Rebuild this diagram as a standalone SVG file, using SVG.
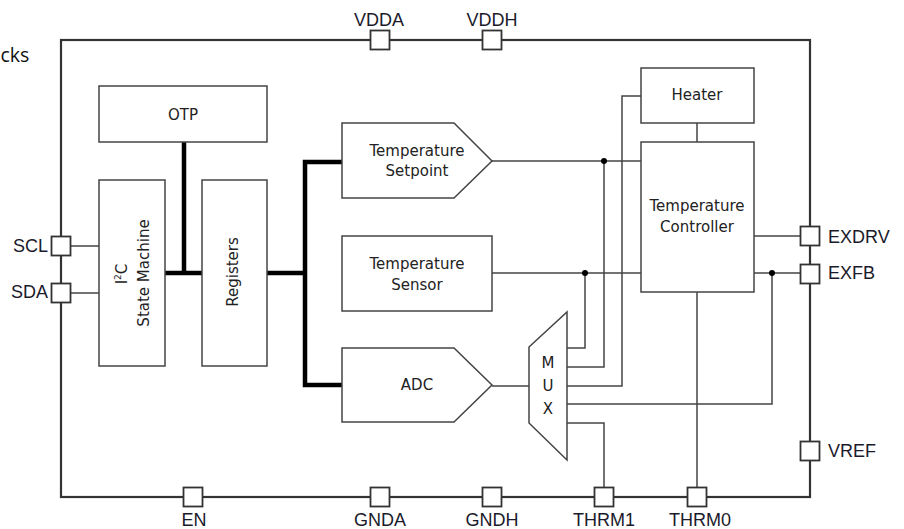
<svg xmlns="http://www.w3.org/2000/svg" width="904" height="529" viewBox="0 0 904 529">
<style>
.chip{fill:none;stroke:#333;stroke-width:2.2}
.box{fill:#fff;stroke:#444;stroke-width:1.5}
.pin{fill:#fff;stroke:#333;stroke-width:1.8}
.w{fill:none;stroke:#444;stroke-width:1.5}
.bus{fill:none;stroke:#000;stroke-width:4.5;stroke-linejoin:miter}
.dot{fill:#000}
.lbl{font-family:"Liberation Sans",Arial,sans-serif;font-size:18px;fill:#1a1a2a}
.t{font-family:"DejaVu Sans",Verdana,sans-serif;font-size:15px;fill:#222;text-anchor:middle}
.mid{text-anchor:middle}
.end{text-anchor:end}
</style>
<text x="0.5" y="62" font-family="'Open Sans',sans-serif" font-size="19.5" fill="#111">cks</text>
<g id="chip"><rect class="chip" x="61" y="40" width="749" height="457"/></g>
<g id="connectors">
<path class="w" d="M71 246H99M71 293H99"/>
<path class="bus" d="M184 142V273M165 273H202M267 273H305M342 162H305V385H342"/>
<path class="w" d="M492 161H641M492 273H641M492 386H529"/>
<path class="w" d="M567 348H585V273M567 367H604V161M567 386H622V96H641M567 404H772V273M567 423H604V488"/>
<path class="w" d="M697 123V142M754 236H800M754 273H800M697 292V488"/>
<circle class="dot" cx="585" cy="273" r="3"/>
<circle class="dot" cx="604" cy="161" r="3"/>
<circle class="dot" cx="772" cy="273" r="3"/>
</g>
<g id="otp"><rect class="box" x="99" y="86" width="168" height="56"/><text class="t" x="183" y="120">OTP</text></g>
<g id="i2c"><rect class="box" x="99" y="180" width="66" height="186"/>
<text class="t" transform="translate(127,274) rotate(-90)">I<tspan font-size="9" dy="-6">2</tspan><tspan dy="6">C</tspan></text>
<text class="t" transform="translate(149,273) rotate(-90)">State Machine</text></g>
<g id="registers"><rect class="box" x="202" y="180" width="65" height="186"/><text class="t" transform="translate(238,272) rotate(-90)">Registers</text></g>
<g id="setpoint"><polygon class="box" points="342,123 454,123 492,161 454,198 342,198"/><text class="t" x="417" y="156">Temperature</text><text class="t" x="417" y="176">Setpoint</text></g>
<g id="sensor"><rect class="box" x="342" y="236" width="150" height="75"/><text class="t" x="417" y="269">Temperature</text><text class="t" x="417" y="290">Sensor</text></g>
<g id="adc"><polygon class="box" points="342,348 454,348 492,385 454,422 342,422"/><text class="t" x="417" y="390">ADC</text></g>
<g id="mux"><polygon class="box" points="529,347 567,312 567,460 529,423"/><text class="t" x="548" y="368" font-size="16">M</text><text class="t" x="548" y="391" font-size="16">U</text><text class="t" x="548" y="414" font-size="16">X</text></g>
<g id="heater"><rect class="box" x="641" y="68" width="113" height="55"/><text class="t" x="697" y="100">Heater</text></g>
<g id="controller"><rect class="box" x="641" y="142" width="113" height="150"/><text class="t" x="697" y="211" font-size="14.5">Temperature</text><text class="t" x="697" y="232" font-size="14.5">Controller</text></g>
<g id="pin-vdda"><rect class="pin" x="370.5" y="30.5" width="19" height="19"/><text class="lbl mid" x="379" y="26">VDDA</text></g>
<g id="pin-vddh"><rect class="pin" x="482.5" y="30.5" width="19" height="19"/><text class="lbl mid" x="492" y="26">VDDH</text></g>
<g id="pin-scl"><rect class="pin" x="51.5" y="236.5" width="19" height="19"/><text class="lbl end" x="48" y="252">SCL</text></g>
<g id="pin-sda"><rect class="pin" x="51.5" y="283.5" width="19" height="19"/><text class="lbl end" x="48" y="298">SDA</text></g>
<g id="pin-exdrv"><rect class="pin" x="800.5" y="226.5" width="19" height="19"/><text class="lbl" x="828" y="243">EXDRV</text></g>
<g id="pin-exfb"><rect class="pin" x="800.5" y="264.5" width="19" height="19"/><text class="lbl" x="828" y="279">EXFB</text></g>
<g id="pin-vref"><rect class="pin" x="800.5" y="441.5" width="19" height="19"/><text class="lbl" x="828" y="457">VREF</text></g>
<g id="pin-en"><rect class="pin" x="183.5" y="487.5" width="19" height="19"/><text class="lbl mid" x="194" y="526">EN</text></g>
<g id="pin-gnda"><rect class="pin" x="370.5" y="487.5" width="19" height="19"/><text class="lbl mid" x="380" y="526">GNDA</text></g>
<g id="pin-gndh"><rect class="pin" x="482.5" y="487.5" width="19" height="19"/><text class="lbl mid" x="492" y="526">GNDH</text></g>
<g id="pin-thrm1"><rect class="pin" x="594.5" y="487.5" width="19" height="19"/><text class="lbl mid" x="604" y="526">THRM1</text></g>
<g id="pin-thrm0"><rect class="pin" x="687.5" y="487.5" width="19" height="19"/><text class="lbl mid" x="700" y="526">THRM0</text></g>
</svg>
